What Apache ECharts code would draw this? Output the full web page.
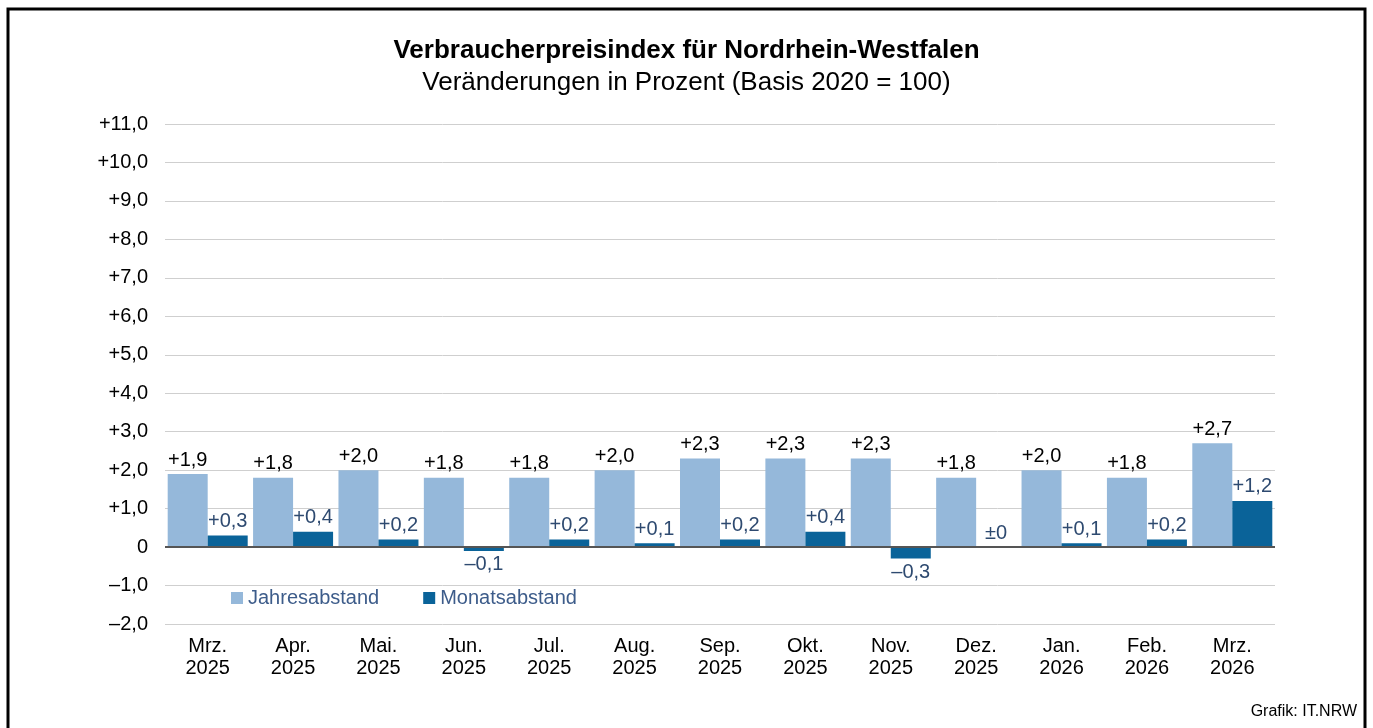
<!DOCTYPE html>
<html>
<head>
<meta charset="utf-8">
<script src="https://cdn.jsdelivr.net/npm/echarts@6/dist/echarts.min.js"></script>
<style>
  html, body { margin: 0; padding: 0; background: #fff; }
  #chart { width: 1373px; height: 728px; }
</style>
</head>
<body>
<div id="chart"></div>
<script>
// Monate (zweizeilig)
const categories = ['Mrz.\n2025', 'Apr.\n2025', 'Mai.\n2025', 'Jun.\n2025', 'Jul.\n2025', 'Aug.\n2025',
  'Sep.\n2025', 'Okt.\n2025', 'Nov.\n2025', 'Dez.\n2025', 'Jan.\n2026', 'Feb.\n2026', 'Mrz.\n2026']
// Veränderung gegenüber Vorjahresmonat
const jahresabstand = [1.9, 1.8, 2.0, 1.8, 1.8, 2.0, 2.3, 2.3, 2.3, 1.8, 2.0, 1.8, 2.7]
// Veränderung gegenüber Vormonat
const monatsabstand = [0.3, 0.4, 0.2, -0.1, 0.2, 0.1, 0.2, 0.4, -0.3, 0, 0.1, 0.2, 1.2]

const font = '"Liberation Sans", Arial, sans-serif'

// Zahl im deutschen Format mit Vorzeichen
const fmt = v => Math.abs(v).toFixed(1).replace('.', ',')
const signed = v => v > 0 ? '+' + fmt(v) : (v < 0 ? '\u2013' + fmt(v) : '\u00b10')
const axisFmt = v => v > 0 ? '+' + fmt(v) : (v < 0 ? '\u2013' + fmt(v) : '0')

const chart = echarts.init(document.getElementById('chart'))

chart.setOption({
  animation: false,
  textStyle: { fontFamily: font },
  title: {
    text: 'Verbraucherpreisindex für Nordrhein-Westfalen',
    subtext: 'Veränderungen in Prozent (Basis 2020 = 100)',
    left: 'center',
    top: 33,
    itemGap: 6,
    textStyle: { fontSize: 26, fontWeight: 'bold', color: '#000', fontFamily: font },
    subtextStyle: { fontSize: 26, color: '#000', fontFamily: font }
  },
  legend: {
    left: 226,
    top: 583,
    itemWidth: 12,
    itemHeight: 12,
    itemGap: 44,
    icon: 'rect',
    textStyle: { fontSize: 20, color: '#3d5c8a', fontFamily: font },
    data: ['Jahresabstand', 'Monatsabstand']
  },
  grid: { left: 165, right: 98, top: 124, bottom: 104 },
  xAxis: {
    type: 'category',
    data: categories,
    axisLine: { show: false, onZero: false },
    axisTick: { show: false },
    axisLabel: { fontSize: 20, color: '#000', lineHeight: 22, margin: 11 }
  },
  yAxis: {
    type: 'value',
    min: -2,
    max: 11,
    interval: 1,
    axisLabel: { fontSize: 20, color: '#000', margin: 17, formatter: axisFmt },
    splitLine: { lineStyle: { color: '#cfcfcf', width: 1 } }
  },
  graphic: [
    {
      type: 'rect',
      shape: { x: 8, y: 9, width: 1357, height: 740 },
      style: { fill: 'none', stroke: '#000', lineWidth: 3 },
      silent: true
    },
    {
      type: 'text',
      right: 16,
      top: 704,
      style: { text: 'Grafik: IT.NRW', font: '16px ' + font, fill: '#000' }
    }
  ],
  series: [
    {
      name: 'Jahresabstand',
      type: 'bar',
      data: jahresabstand,
      barWidth: 40,
      barGap: '0%',
      itemStyle: { color: '#95b8da' },
      label: {
        show: true,
        position: 'top',
        distance: 4,
        fontSize: 20,
        color: '#000',
        formatter: p => signed(p.value)
      },
      markLine: {
        silent: true,
        symbol: 'none',
        label: { show: false },
        lineStyle: { color: '#555', width: 2, type: 'solid' },
        data: [{ yAxis: 0 }]
      }
    },
    {
      name: 'Monatsabstand',
      type: 'bar',
      data: monatsabstand.map(v => ({
        value: v,
        label: { position: v < 0 ? 'bottom' : 'top' }
      })),
      barWidth: 40,
      itemStyle: { color: '#0a6399' },
      label: {
        show: true,
        distance: 4,
        fontSize: 20,
        color: '#2e4a70',
        formatter: p => signed(p.value)
      }
    }
  ]
})
</script>
</body>
</html>
